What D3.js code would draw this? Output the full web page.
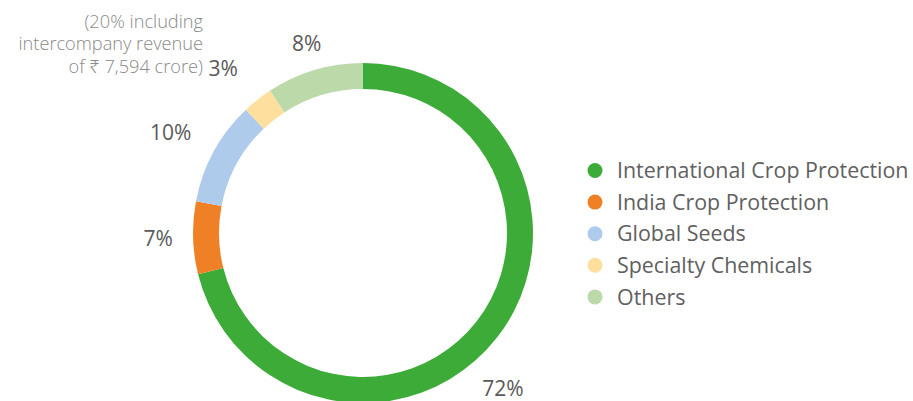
<!DOCTYPE html>
<html>
<head>
<meta charset="utf-8">
<script src="https://cdn.jsdelivr.net/npm/d3@7"></script>
<style>
  body { margin: 0; background: #fff; }
  svg { display: block; font-family: "Open Sans", "Noto Sans", sans-serif; }
</style>
</head>
<body>
<div id="chart"></div>
<script>
// Data
const categories = [
  "International Crop Protection",
  "India Crop Protection",
  "Global Seeds",
  "Specialty Chemicals",
  "Others",
];
const shares = [71.1, 6.9, 9.9, 2.9, 9.2];
const shareLabels = ["72%", "7%", "10%", "3%", "8%"];
const colors = ["#3dab37", "#f08026", "#aecbeb", "#fedf9e", "#bcdaa9"];
const noteLines = ["(20% including", "intercompany revenue", "of \u20b9 7,594 crore)"];

function draw() {
  //dimensions and variables
  const dimensions = {
    width: 913,
    height: 401,
    cx: 363,
    cy: 233,
    outerRadius: 170,
    innerRadius: 144,
    labelRadius: 205,
  };
  // label tweaks [angle deg, radius px], per slice
  const labelNudge = [[10, 4], [0, 0], [-1, 12], [-2, 11], [0, -7]];

  const svg = d3
    .select("#chart")
    .append("svg")
    .attr("width", dimensions.width)
    .attr("height", dimensions.height);

  const ctr = svg
    .append("g")
    .attr("transform", `translate(${dimensions.cx}, ${dimensions.cy})`);

  const pie = d3.pie().sort(null).value((d) => d);
  const arcs = pie(shares);

  const arc = d3
    .arc()
    .innerRadius(dimensions.innerRadius)
    .outerRadius(dimensions.outerRadius);

  ctr
    .selectAll("path")
    .data(arcs)
    .join("path")
    .attr("d", arc)
    .attr("fill", (d, i) => colors[i]);

  // Percent labels
  ctr
    .selectAll("text.pct")
    .data(arcs)
    .join("text")
    .classed("pct", true)
    .attr("transform", (d, i) => {
      const a = (d.startAngle + d.endAngle) / 2 + (labelNudge[i][0] * Math.PI) / 180;
      const r = dimensions.labelRadius + labelNudge[i][1];
      return `translate(${r * Math.sin(a)}, ${-r * Math.cos(a)})`;
    })
    .attr("text-anchor", "middle")
    .attr("dy", "0.36em")
    .attr("font-size", 21)
    .attr("fill", "#595959")
    .text((d, i) => shareLabels[i]);

  // Note next to Specialty Chemicals label
  svg
    .append("text")
    .attr("text-anchor", "end")
    .attr("font-size", 18.2)
    .attr("font-weight", 300)
    .attr("fill", "#8a8a8a")
    .selectAll("tspan")
    .data(noteLines)
    .join("tspan")
    .attr("x", 203)
    .attr("y", (d, i) => 28 + i * 22.3)
    .text((d) => d);

  // Legend
  const legend = svg
    .append("g")
    .attr("transform", "translate(595, 170.5)");

  const rows = legend
    .selectAll("g")
    .data(categories)
    .join("g")
    .attr("transform", (d, i) => `translate(0, ${i * 31.6})`);

  rows
    .append("circle")
    .attr("r", 7.5)
    .attr("fill", (d, i) => colors[i]);

  rows
    .append("text")
    .attr("x", 22)
    .attr("dy", "0.36em")
    .attr("font-size", 21.4)
    .attr("fill", "#606060")
    .text((d) => d);
}

draw();
</script>
</body>
</html>
